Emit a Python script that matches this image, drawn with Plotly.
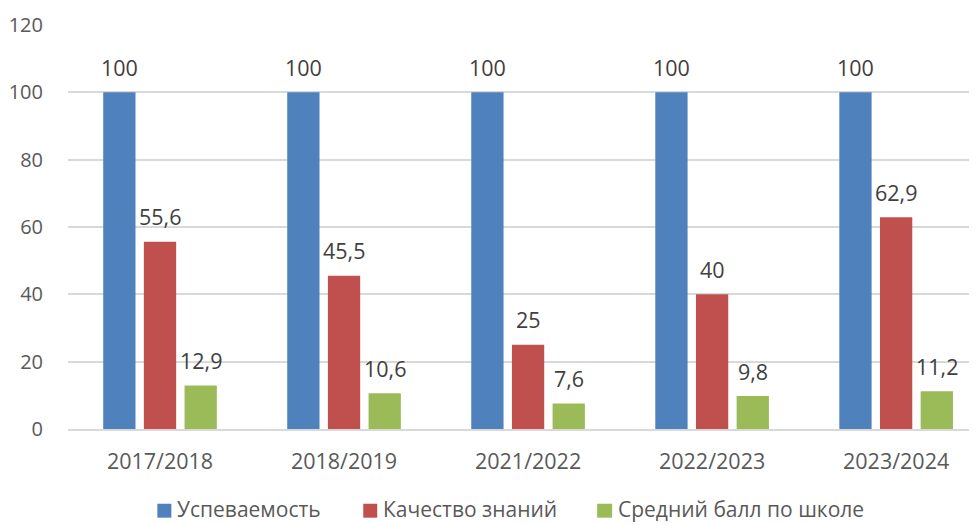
import plotly.graph_objects as go

categories = ["2017/2018", "2018/2019", "2021/2022", "2022/2023", "2023/2024"]
series_names = ["Успеваемость", "Качество знаний", "Средний балл по школе"]
uspevaemost = [100, 100, 100, 100, 100]
kachestvo = [55.6, 45.5, 25, 40, 62.9]
sredniy_ball = [12.9, 10.6, 7.6, 9.8, 11.2]
y_ticks = [0, 20, 40, 60, 80, 100, 120]

colors = ["#4F81BD", "#C0504D", "#9BBB59"]
FONT = "Open Sans"
FS = 21.5
FS_Y = 20
FS_LEG = 21
series = [uspevaemost, kachestvo, sredniy_ball]

FIG_W, FIG_H = 969, 516
ML, MT, MB = 59.65, 16.6, 94.5
CAT_PX = 184.1  # pixel width of one category slot
plot_w = FIG_W - ML
x_range = [-0.5, -0.5 + plot_w / CAT_PX]


def fmt(v):
    return f"{v:g}".replace(".", ",")


fig = go.Figure()
for name, vals, col in zip(series_names, series, colors):
    fig.add_trace(go.Bar(x=categories, y=vals, name=name, marker_color=col,
                         marker_line_width=0, hoverinfo="skip", showlegend=False))

annotations = []
offsets = [-40.7, 0, 40.7]
for vals, dx in zip(series, offsets):
    for c, v in zip(categories, vals):
        annotations.append(dict(x=c, y=v, text=fmt(v), showarrow=False,
                                xshift=dx, yshift=25, yanchor="middle",
                                font=dict(family=FONT, size=FS, color="#404040")))

# manual legend (positions in paper coordinates)
shapes = []
legend_pos = [(0.0983, 0.1137, 0.1191), (0.3248, 0.3402, 0.3457), (0.5821, 0.5986, 0.6041)]
for name, col, (x0, x1, xt) in zip(series_names, colors, legend_pos):
    shapes.append(dict(type="rect", xref="paper", yref="paper", x0=x0, x1=x1,
                       y0=-0.2195, y1=-0.185, fillcolor=col, line_width=0))
    annotations.append(dict(xref="paper", yref="paper", x=xt, y=-0.1985, text=name,
                            showarrow=False, xanchor="left", yanchor="middle",
                            borderpad=0,
                            font=dict(family=FONT, size=FS_LEG, color="#595959")))

fig.update_layout(
    width=FIG_W, height=FIG_H,
    margin=dict(l=ML, r=0, t=MT, b=MB, autoexpand=False),
    paper_bgcolor="white", plot_bgcolor="white",
    barmode="group", bargap=0.337, bargroupgap=0.206,
    font=dict(family=FONT, size=FS, color="#595959"),
    showlegend=False,
    annotations=annotations,
    shapes=shapes,
)
fig.update_yaxes(range=[0, 120], tickvals=y_ticks, showgrid=True, gridcolor="#D9D9D9",
                 gridwidth=1.5, zeroline=False, showline=False, automargin=False,
                 ticklabeloverflow="allow",
                 ticks="outside", ticklen=20, tickcolor="rgba(0,0,0,0)",
                 tickfont=dict(family=FONT, size=FS_Y, color="#595959"), fixedrange=True)
fig.update_xaxes(range=x_range, showline=True, linecolor="#D9D9D9", linewidth=1.5,
                 showgrid=False, automargin=False, ticklabeloverflow="allow",
                 ticks="outside", ticklen=12, tickcolor="rgba(0,0,0,0)",
                 tickfont=dict(family=FONT, size=FS, color="#595959"), fixedrange=True)

fig.write_html("out.html")
